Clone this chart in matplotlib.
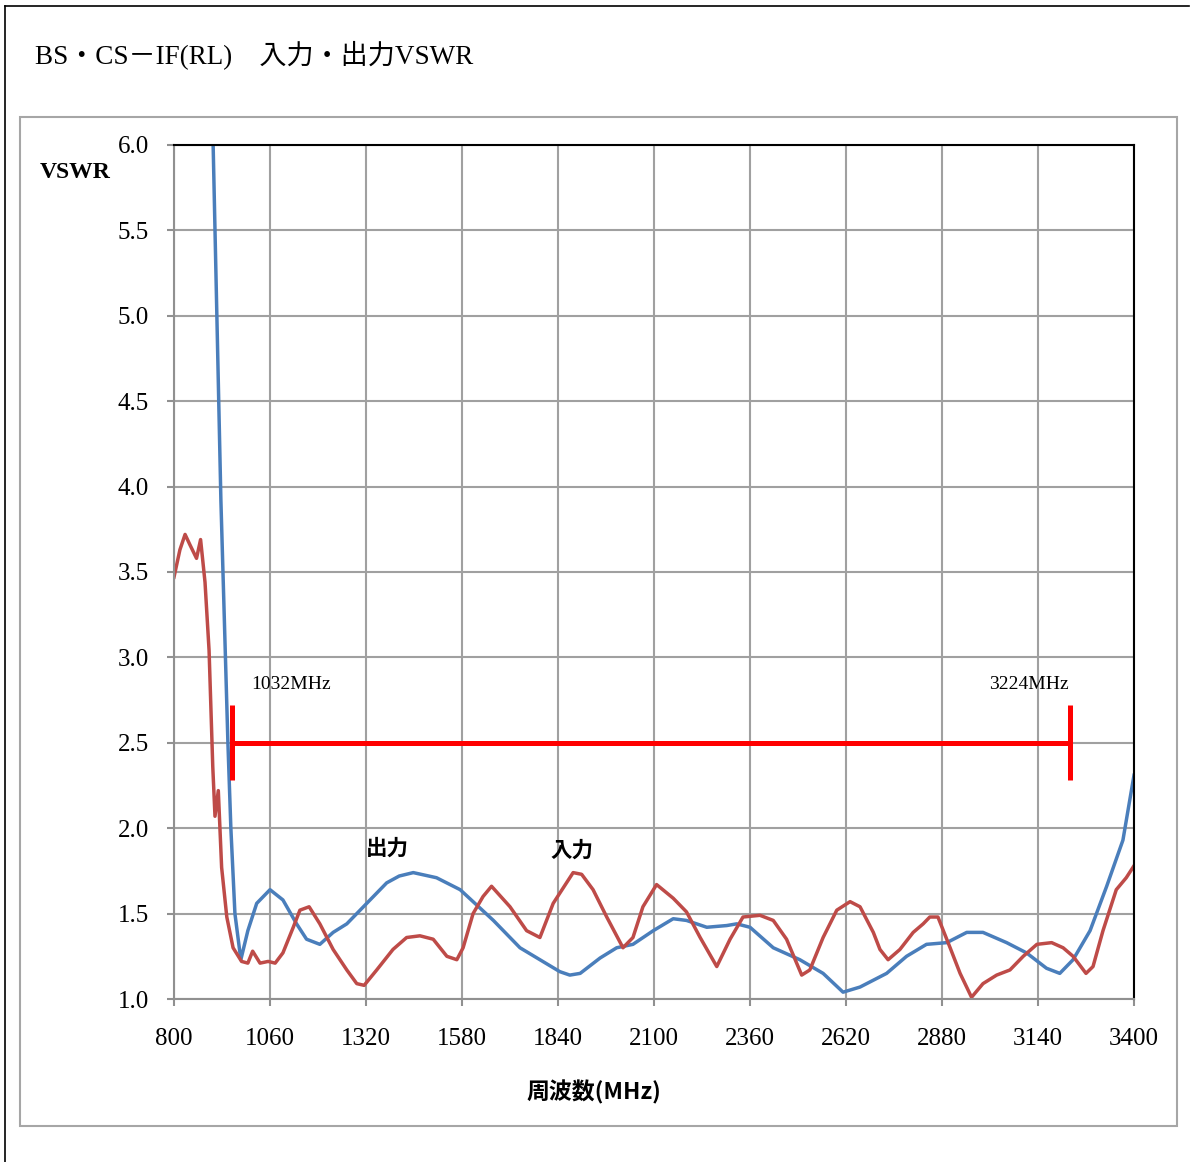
import matplotlib.pyplot as plt
from matplotlib.lines import Line2D
from matplotlib.patches import Rectangle

# 周波数(MHz) と VSWR の読み取り値
out_freq = [895, 906, 927, 946, 954, 965, 981, 1000, 1024, 1060, 1095, 1132, 1159, 1195,
            1231, 1268, 1322, 1376, 1410, 1448, 1511, 1575, 1620, 1665, 1737, 1791, 1845,
            1872, 1900, 1954, 1999, 2043, 2098, 2152, 2188, 2243, 2297, 2324, 2360, 2423,
            2495, 2558, 2612, 2658, 2730, 2784, 2838, 2893, 2947, 2991, 3055, 3109, 3163,
            3199, 3235, 3281, 3326, 3370, 3400]
out_vswr = [6.4, 6.0, 3.92, 2.5, 2.0, 1.5, 1.23, 1.40, 1.56, 1.64, 1.58, 1.44, 1.35, 1.32,
            1.39, 1.44, 1.56, 1.68, 1.72, 1.74, 1.71, 1.64, 1.55, 1.46, 1.30, 1.23, 1.16,
            1.14, 1.15, 1.24, 1.30, 1.32, 1.40, 1.47, 1.46, 1.42, 1.43, 1.44, 1.42, 1.30,
            1.23, 1.15, 1.04, 1.07, 1.15, 1.25, 1.32, 1.33, 1.39, 1.39, 1.33, 1.27, 1.18,
            1.15, 1.23, 1.40, 1.66, 1.93, 2.31]

in_freq = [800, 816, 830, 843, 861, 872, 884, 895, 905, 911, 920, 929, 943, 960, 983, 1000,
           1013, 1033, 1055, 1074, 1095, 1123, 1141, 1166, 1195, 1231, 1268, 1295, 1315,
           1349, 1393, 1430, 1466, 1502, 1539, 1566, 1583, 1610, 1637, 1660, 1710, 1755,
           1791, 1827, 1881, 1904, 1935, 1972, 2016, 2043, 2070, 2107, 2152, 2188, 2225,
           2270, 2306, 2341, 2387, 2423, 2459, 2500, 2522, 2558, 2595, 2631, 2658, 2694,
           2712, 2734, 2766, 2802, 2829, 2847, 2869, 2902, 2929, 2960, 2991, 3028, 3064,
           3100, 3137, 3177, 3208, 3235, 3270, 3289, 3316, 3352, 3379, 3400]
in_vswr = [3.47, 3.63, 3.72, 3.66, 3.58, 3.69, 3.44, 3.04, 2.36, 2.07, 2.22, 1.77, 1.48, 1.30,
           1.22, 1.21, 1.28, 1.21, 1.22, 1.21, 1.27, 1.42, 1.52, 1.54, 1.44, 1.29, 1.17, 1.09,
           1.08, 1.17, 1.29, 1.36, 1.37, 1.35, 1.25, 1.23, 1.30, 1.50, 1.60, 1.66, 1.54, 1.40,
           1.36, 1.56, 1.74, 1.73, 1.64, 1.48, 1.30, 1.36, 1.54, 1.67, 1.59, 1.51, 1.36,
           1.19, 1.35, 1.48, 1.49, 1.46, 1.35, 1.14, 1.17, 1.36, 1.52, 1.57, 1.54, 1.39,
           1.29, 1.23, 1.29, 1.39, 1.44, 1.48, 1.48, 1.30, 1.15, 1.01, 1.09, 1.14, 1.17,
           1.25, 1.32, 1.33, 1.30, 1.25, 1.15, 1.19, 1.40, 1.64, 1.71, 1.78]

x_ticks = list(range(800, 3401, 260))
y_ticks = [1.0, 1.5, 2.0, 2.5, 3.0, 3.5, 4.0, 4.5, 5.0, 5.5, 6.0]

# 帯域表示 (図上の位置) とラベル
band_left, band_right = 958, 3226
band_level = 2.5
band_labels = ['1032MHz', '3224MHz']

W, H = 1190, 1162
fig = plt.figure(figsize=(W / 100, H / 100), dpi=100)
ax = fig.add_axes([174 / W, 1 - 999 / H, 960 / W, 854 / H])

serif = ['Liberation Serif', 'Noto Sans CJK JP']
cjk = ['Noto Sans CJK JP', 'DejaVu Sans']

ax.plot(out_freq, out_vswr, color='#4A7EBB', lw=2.5)
ax.plot(in_freq, in_vswr, color='#BE4B48', lw=2.5)

# 帯域の赤線
ax.plot([band_left, band_right], [band_level, band_level], color='#FF0000', lw=3.6,
        solid_capstyle='butt')
for f in (band_left, band_right):
    ax.plot([f, f], [band_level - 0.22, band_level + 0.22], color='#FF0000', lw=3.6,
            solid_capstyle='butt')
ax.text(1010, 2.84, band_labels[0], fontsize=14, family=serif, va='center', ha='left')
ax.text(3224, 2.84, band_labels[1], fontsize=14, family=serif, va='center', ha='right')

ax.text(1377, 1.88, '出力', fontsize=15.5, family=cjk, weight='bold', ha='center', va='center')
ax.text(1877, 1.87, '入力', fontsize=15.5, family=cjk, weight='bold', ha='center', va='center')

ax.set_xlim(800, 3400)
ax.set_ylim(1.0, 6.0)
ax.set_xticks(x_ticks)
ax.set_yticks(y_ticks)
ax.set_yticklabels([f'{v:.1f}' for v in y_ticks])
ax.grid(True, color='#A0A0A0', lw=1.5)
ax.set_axisbelow(True)
ax.tick_params(axis='both', direction='out', length=5, width=1.5, color='#909090',
               labelsize=18)
ax.tick_params(axis='x', pad=16)
ax.tick_params(axis='y', pad=13)
for lab in ax.get_xticklabels() + ax.get_yticklabels():
    lab.set_family(serif)
for s in ('left', 'bottom'):
    ax.spines[s].set_color('#909090')
    ax.spines[s].set_linewidth(1.5)
for s in ('top', 'right'):
    ax.spines[s].set_color('black')
    ax.spines[s].set_linewidth(1.5)

# 外枠
fig.add_artist(Line2D([5 / W, 5 / W], [1 - 6 / H, 0], color='black', lw=1.2,
                      transform=fig.transFigure))
fig.add_artist(Line2D([5 / W, 1189 / W], [1 - 6 / H, 1 - 6 / H], color='black', lw=1.2,
                      transform=fig.transFigure))
fig.add_artist(Rectangle((20 / W, 1 - 1126 / H), 1157 / W, 1009 / H, fill=False,
                         edgecolor='#A6A6A6', lw=1.5, transform=fig.transFigure))

fig.text(35 / W, 1 - 55 / H, 'BS・CS－IF(RL)　入力・出力VSWR', fontsize=19.5, family=serif,
         va='center', ha='left')
fig.text(40 / W, 1 - 173 / H, 'VSWR', fontsize=17, family=serif, weight='bold',
         va='center', ha='left')
fig.text(594 / W, 1 - 1092 / H, '周波数(MHz)', fontsize=16.5, family=cjk, weight='bold',
         va='center', ha='center')

fig.savefig('out.png', dpi=100)
